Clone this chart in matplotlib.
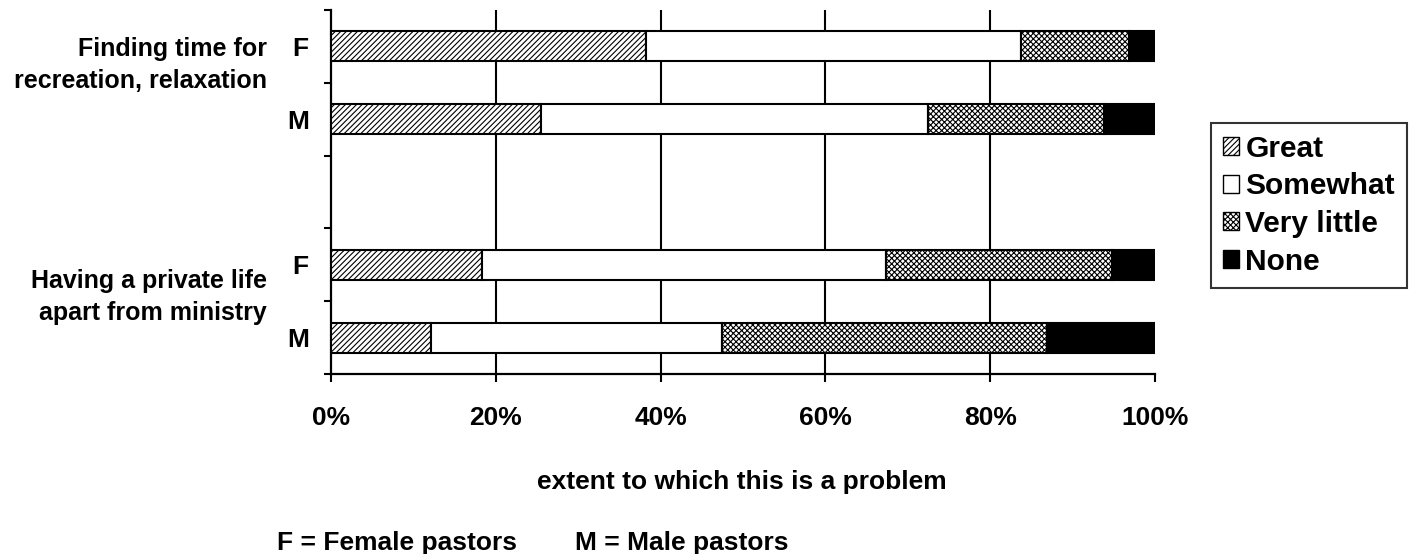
import numpy as np
import matplotlib
matplotlib.use("Agg")
import matplotlib.pyplot as plt
from matplotlib.patches import Patch

plt.rcParams["font.family"] = ["Liberation Sans", "DejaVu Sans"]
plt.rcParams["font.weight"] = "bold"
plt.rcParams["hatch.linewidth"] = 0.8

# rows from top to bottom: F, M (recreation), gap, F, M (private life)
rows = ["F", "M", "", "F", "M"]
great = [38.2, 25.5, np.nan, 18.3, 12.1]
somewhat = [45.5, 47.0, np.nan, 49.0, 35.4]
very_little = [13.2, 21.3, np.nan, 27.5, 39.4]
none = [3.1, 6.2, np.nan, 5.2, 13.1]
groups = ["Finding time for\nrecreation, relaxation", "Having a private life\napart from ministry"]

series = [("Great", great, "white", "//////"),
          ("Somewhat", somewhat, "white", None),
          ("Very little", very_little, "white", "xxxxxx"),
          ("None", none, "black", None)]

W, H = 1422, 554
fig = plt.figure(figsize=(W / 100, H / 100), dpi=100)
ax = fig.add_axes([331 / W, 1 - 374 / H, 824 / W, 364 / H])

y = np.arange(len(rows))
left = np.zeros(len(rows))
handles = []
for name, vals, fc, hatch in series:
    v = np.array(vals, dtype=float)
    ax.barh(y, v, left=left, height=0.41, color=fc, edgecolor="black",
            linewidth=1.5, hatch=hatch, zorder=3)
    left = left + np.nan_to_num(v)
    handles.append(Patch(facecolor=fc, edgecolor="black", hatch=hatch, linewidth=1.0, label=name))

ax.set_xlim(0, 100)
ax.set_ylim(len(rows) - 0.5, -0.5)

# vertical grid lines
for gx in [20, 40, 60, 80]:
    ax.axvline(gx, color="black", lw=1.5, zorder=1)

ax.spines["top"].set_visible(False)
ax.spines["right"].set_visible(False)
ax.spines["left"].set_linewidth(1.6)
ax.spines["bottom"].set_linewidth(1.6)

ax.set_xticks(np.arange(0, 101, 20))
ax.set_xticklabels([f"{t}%" for t in range(0, 101, 20)], fontsize=19, fontweight="bold")
ax.tick_params(axis="x", length=6, width=1.5, pad=17, direction="out")

ax.set_yticks(y)
ax.set_yticklabels(rows, fontsize=19, fontweight="bold")
ax.tick_params(axis="y", which="major", length=0, pad=16)
ax.set_yticks(np.arange(-0.5, len(rows) + 0.5, 1), minor=True)
ax.tick_params(axis="y", which="minor", length=5, width=1.5, direction="out")

fig.text(742 / W, 1 - 482 / H, "extent to which this is a problem", fontsize=19,
         fontweight="bold", ha="center", va="center")

# group labels
fig.text(267 / W, 1 - 65 / H, groups[0], ha="right", va="center",
         fontsize=18, fontweight="bold", linespacing=1.45)
fig.text(267 / W, 1 - 297 / H, groups[1], ha="right", va="center",
         fontsize=18, fontweight="bold", linespacing=1.45)

leg = fig.legend(handles=handles, loc="upper left", bbox_to_anchor=(1211 / W, 1 - 123 / H),
                 fontsize=21.5, frameon=True, fancybox=False, edgecolor="black",
                 handlelength=0.55, handleheight=0.55, handletextpad=0.2, labelspacing=0.32,
                 borderpad=0.4, borderaxespad=0)
leg.get_frame().set_linewidth(1.5)
for t in leg.get_texts():
    t.set_fontweight("bold")

fig.text(277 / W, 1 - 543 / H, "F = Female pastors", fontsize=19, fontweight="bold", va="center")
fig.text(575 / W, 1 - 543 / H, "M = Male pastors", fontsize=19, fontweight="bold", va="center")

fig.savefig("out.png", dpi=100)
